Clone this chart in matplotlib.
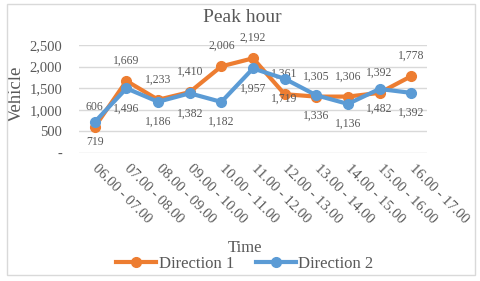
import matplotlib
matplotlib.use("Agg")
import matplotlib.pyplot as plt
from matplotlib.patches import Rectangle
from matplotlib.ticker import FuncFormatter

plt.rcParams['font.family'] = ['Liberation Serif', 'DejaVu Serif']

hours = ["06.00 - 07.00", "07.00 - 08.00", "08.00 - 09.00", "09.00 - 10.00",
         "10.00 - 11.00", "11.00 - 12.00", "12.00 - 13.00", "13.00 - 14.00",
         "14.00 - 15.00", "15.00 - 16.00", "16.00 - 17.00"]
direction1 = [606, 1669, 1233, 1410, 2006, 2192, 1361, 1305, 1306, 1392, 1778]
direction2 = [719, 1496, 1186, 1382, 1182, 1957, 1719, 1336, 1136, 1482, 1392]
yticks = [0, 500, 1000, 1500, 2000, 2500]

orange = "#ED7D31"
blue = "#5B9BD5"
txt = "#595959"
grid = "#D9D9D9"

fig = plt.figure(figsize=(4.8, 2.81), dpi=100)
ax = fig.add_axes([79 / 480, 1 - 153 / 281, 348 / 480, 108 / 281])

x = list(range(len(hours)))
ax.plot(x, direction1, color=orange, lw=3, marker="o", ms=7, label="Direction 1", zorder=3)
ax.plot(x, direction2, color=blue, lw=3, marker="o", ms=7, label="Direction 2", zorder=4)

# data labels: direction 1 above, direction 2 below
for i, v in enumerate(direction1):
    ax.annotate(f"{v:,}", (i, v), xytext=(0, 14.5), textcoords="offset points",
                ha="center", va="center", fontsize=8.5, color=txt)
for i, v in enumerate(direction2):
    ax.annotate(f"{v:,}", (i, v), xytext=(0, -14.5), textcoords="offset points",
                ha="center", va="center", fontsize=8.5, color=txt)

ax.set_xlim(-0.5, len(hours) - 0.5)
ax.set_ylim(0, 2500)
ax.set_yticks(yticks)
ax.yaxis.set_major_formatter(FuncFormatter(lambda v, p: "-" if v == 0 else f"{int(v):,}"))
ax.grid(axis="y", color=grid, lw=1)
ax.set_axisbelow(True)
for s in ax.spines.values():
    s.set_visible(False)
ax.tick_params(length=0, colors=txt, labelsize=10.5)
ax.tick_params(axis="y", pad=12)
ax.set_xticks(x)
ax.set_xticklabels(hours, rotation=-45, rotation_mode="anchor", ha="left", va="center")
ax.tick_params(axis="x", pad=10)

ax.set_ylabel("Vehicle", fontsize=13.5, color=txt)
ax.yaxis.set_label_coords(-0.155, 0.55)
fig.text(245 / 480, 1 - 248 / 281, "Time", ha="center", va="center", fontsize=12, color=txt)
fig.text(242 / 480, 1 - 17 / 281, "Peak hour", ha="center", va="center", fontsize=14, color=txt)

fig.legend(loc="center", bbox_to_anchor=(245 / 480, 1 - 264 / 281), ncol=2, frameon=False,
           fontsize=12, handlelength=2.4, handletextpad=0.15, columnspacing=1.3,
           labelcolor=txt, borderaxespad=0)

fig.patches.append(Rectangle((7 / 480, 1 - 275 / 281), 468 / 480, 271 / 281,
                             transform=fig.transFigure, fill=False, ec=grid, lw=1))

fig.savefig("out.png", dpi=100)
